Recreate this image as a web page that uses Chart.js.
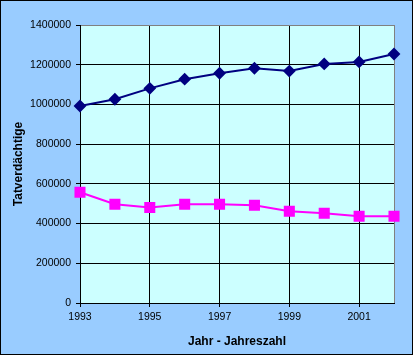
<!DOCTYPE html>
<html><head><meta charset="utf-8">
<script src="https://cdn.jsdelivr.net/npm/chart.js@4"></script>
<style>html,body{margin:0;padding:0;background:#99CCFF;}canvas{display:block;}</style>
</head><body>
<canvas id="c" width="413" height="355"></canvas>
<script>
const years = ['1993','1994','1995','1996','1997','1998','1999','2000','2001','2002'];
const seriesTop = [992000,1026000,1081000,1127000,1157000,1182000,1168000,1204000,1214000,1254000];
const seriesBottom = [558000,497000,481000,497000,497000,492000,462000,452000,437000,437000];
const yTicks = [0,200000,400000,600000,800000,1000000,1200000,1400000];

const PAD = {left: 6, right: 19, top: 25, bottom: 6};
const bgPlugin = {
  id: 'bg',
  beforeDraw(chart) {
    const ctx = chart.ctx, a = chart.chartArea;
    ctx.save();
    ctx.fillStyle = '#99CCFF';
    ctx.fillRect(0, 0, chart.width, chart.height);
    ctx.fillStyle = '#CCFFFF';
    ctx.fillRect(a.left, a.top, a.right - a.left, a.bottom - a.top);
    ctx.restore();
  },
  afterDraw(chart) {
    const ctx = chart.ctx;
    ctx.save();
    ctx.strokeStyle = '#000';
    ctx.lineWidth = 1;
    ctx.strokeRect(0.5, 0.5, chart.width - 1, chart.height - 1);
    ctx.restore();
  }
};

new Chart(document.getElementById('c'), {
  type: 'line',
  data: {
    labels: years,
    datasets: [
      {data: seriesTop, borderColor: '#000080', backgroundColor: '#000080', borderWidth: 2,
       pointStyle: 'rectRot', pointRadius: 5, pointHoverRadius: 5, tension: 0},
      {data: seriesBottom, borderColor: '#FF00FF', backgroundColor: '#FF00FF', borderWidth: 2,
       pointStyle: 'rect', pointRadius: 6.4, pointHoverRadius: 6.4, tension: 0}
    ]
  },
  options: {
    responsive: false,
    animation: false,
    layout: {padding: PAD},
    plugins: {legend: {display: false}, tooltip: {enabled: false}},
    scales: {
      x: {
        type: 'category',
        offset: false,
        border: {color: '#000', width: 1},
        grid: {
          color: c => (c.index === 9 ? '#808080' : (c.index % 2 === 0 ? '#000' : 'rgba(0,0,0,0)')),
          tickColor: c => (c.index % 2 === 0 && c.index !== 9 ? '#000' : 'rgba(0,0,0,0)'),
          tickLength: 4, lineWidth: 1
        },
        ticks: {
          autoSkip: false, maxRotation: 0, padding: 4, color: '#000',
          font: {family: 'Liberation Sans', size: 10.5},
          callback: function(v, i) { return i % 2 === 0 ? years[i] : ''; }
        },
        title: {display: true, text: 'Jahr - Jahreszahl', color: '#000',
          font: {family: 'Liberation Sans', size: 12, weight: 'bold'}, padding: {top: 4, bottom: 0}},
        afterFit: s => { s.height = 355 - 303 - PAD.bottom; }
      },
      y: {
        min: 0, max: 1400000,
        border: {color: '#000', width: 1},
        afterBuildTicks: s => { s.ticks = yTicks.map(v => ({value: v})); },
        grid: {
          color: c => (c.tick && c.tick.value === 1400000 ? '#808080' : '#000'),
          tickColor: '#000', tickLength: 4, lineWidth: 1
        },
        ticks: {color: '#000', padding: 5, font: {family: 'Liberation Sans', size: 10.5},
          callback: v => String(v)},
        title: {display: true, text: 'Tatverdächtige', color: '#000',
          font: {family: 'Liberation Sans', size: 12, weight: 'bold'}, padding: {top: 5, bottom: 0}},
        afterFit: s => { s.width = 80 - PAD.left; }
      }
    }
  },
  plugins: [bgPlugin]
});
</script>
</body></html>
